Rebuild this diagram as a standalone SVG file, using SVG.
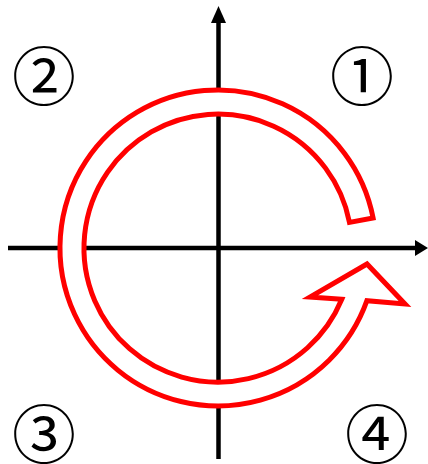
<svg xmlns="http://www.w3.org/2000/svg" width="428" height="464" viewBox="0 0 428 464">
<style>
.axis{stroke:#000;stroke-width:4.5;fill:none}
.head{fill:#000}
.num{font-family:"Noto Sans CJK JP","DejaVu Sans",sans-serif;font-size:64px;fill:#000;text-anchor:middle;dominant-baseline:central}
.rot{fill:#fff;stroke:#f00;stroke-width:5;stroke-linejoin:miter}
</style>
<rect width="428" height="464" fill="#fff"/>
<g id="connectors">
<line class="axis" x1="218.5" y1="459" x2="218.5" y2="20"/>
<polygon class="head" points="218.5,6 211,23 226,23"/>
<line class="axis" x1="8" y1="248" x2="416" y2="248"/>
<polygon class="head" points="428,248 415,240 415,256"/>
</g>
<g id="rotation">
<path class="rot" d="M373.1,217.9 A158,158 0 1 0 366.9,300.7 L405,304 L367,264 L310,297 L341.8,299.3 A134,134 0 1 1 349.5,222.4 Z"/>
</g>
<g id="q1"><text class="num" x="362" y="72">①</text></g>
<g id="q2"><text class="num" x="44" y="72">②</text></g>
<g id="q3"><text class="num" x="44" y="430">③</text></g>
<g id="q4"><text class="num" x="377" y="430">④</text></g>
</svg>
